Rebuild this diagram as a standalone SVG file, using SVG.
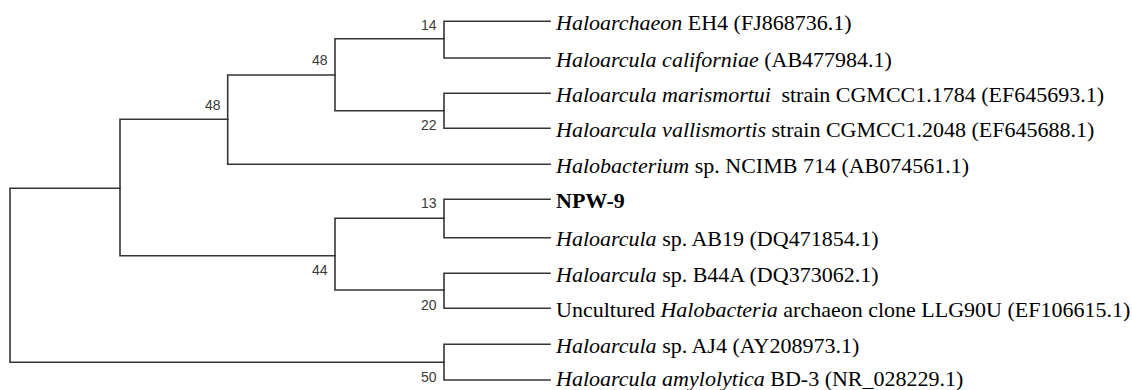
<svg xmlns="http://www.w3.org/2000/svg" width="1132" height="390" viewBox="0 0 1132 390">
<style>
.br{fill:none;stroke:#353535;stroke-width:1.6;stroke-linejoin:miter;stroke-linecap:square}
.bs{font-family:"Liberation Sans",Arial,sans-serif;font-size:14px;fill:#3a3a3a;text-anchor:end}
.lb{font-family:"Liberation Serif","Times New Roman",serif;font-size:22px;fill:#000}
.i{font-style:italic}
.b{font-weight:bold}
</style>
<rect width="1132" height="390" fill="#fff"/>
<g id="connectors">
<path class="br" d="M120 188.3 H10 V362.3 H444"/>
<path class="br" d="M227.7 119.3 H120 V255.7 H335"/>
<path class="br" d="M335 75 H227.7 V164.3 H550"/>
<path class="br" d="M444 38.7 H335 V110.7 H444"/>
<path class="br" d="M550 21.3 H444 V58 H550"/>
<path class="br" d="M550 93.3 H444 V128.3 H550"/>
<path class="br" d="M444 218.3 H335 V290 H444"/>
<path class="br" d="M550 199.3 H444 V237.7 H550"/>
<path class="br" d="M550 273.3 H444 V308.3 H550"/>
<path class="br" d="M550 344.3 H444 V380 H550"/>
</g>
<g id="node-14"><text class="bs" x="436.5" y="30.3">14</text></g>
<g id="node-48a"><text class="bs" x="327.5" y="65">48</text></g>
<g id="node-48b"><text class="bs" x="220.5" y="110">48</text></g>
<g id="node-22"><text class="bs" x="436.5" y="130">22</text></g>
<g id="node-13"><text class="bs" x="436.5" y="208.3">13</text></g>
<g id="node-44"><text class="bs" x="327.5" y="275">44</text></g>
<g id="node-20"><text class="bs" x="436.5" y="309.7">20</text></g>
<g id="node-50"><text class="bs" x="436.5" y="381.7">50</text></g>
<g id="leaf-1"><text class="lb" x="556" y="29.8"><tspan class="i">Haloarchaeon</tspan> EH4 (FJ868736.1)</text></g>
<g id="leaf-2"><text class="lb" x="556" y="66.5"><tspan class="i">Haloarcula californiae</tspan> (AB477984.1)</text></g>
<g id="leaf-3"><text class="lb" x="556" y="101.8"><tspan class="i">Haloarcula marismortui</tspan><tspan dx="5"> strain CGMCC1.1784 (EF645693.1)</tspan></text></g>
<g id="leaf-4"><text class="lb" x="556" y="136.8"><tspan class="i">Haloarcula vallismortis</tspan> strain CGMCC1.2048 (EF645688.1)</text></g>
<g id="leaf-5"><text class="lb" x="556" y="172.8"><tspan class="i">Halobacterium</tspan> sp. NCIMB 714 (AB074561.1)</text></g>
<g id="leaf-6"><text class="lb b" x="556" y="207.8">NPW-9</text></g>
<g id="leaf-7"><text class="lb" x="556" y="246.2"><tspan class="i">Haloarcula</tspan> sp. AB19 (DQ471854.1)</text></g>
<g id="leaf-8"><text class="lb" x="556" y="281.8"><tspan class="i">Haloarcula</tspan> sp. B44A (DQ373062.1)</text></g>
<g id="leaf-9"><text class="lb" x="556" y="316.8">Uncultured <tspan class="i">Halobacteria</tspan> archaeon clone LLG90U (EF106615.1)</text></g>
<g id="leaf-10"><text class="lb" x="556" y="352.8"><tspan class="i">Haloarcula</tspan> sp. AJ4 (AY208973.1)</text></g>
<g id="leaf-11"><text class="lb" x="556" y="385.5"><tspan class="i">Haloarcula amylolytica</tspan> BD-3 (NR_028229.1)</text></g>
</svg>
